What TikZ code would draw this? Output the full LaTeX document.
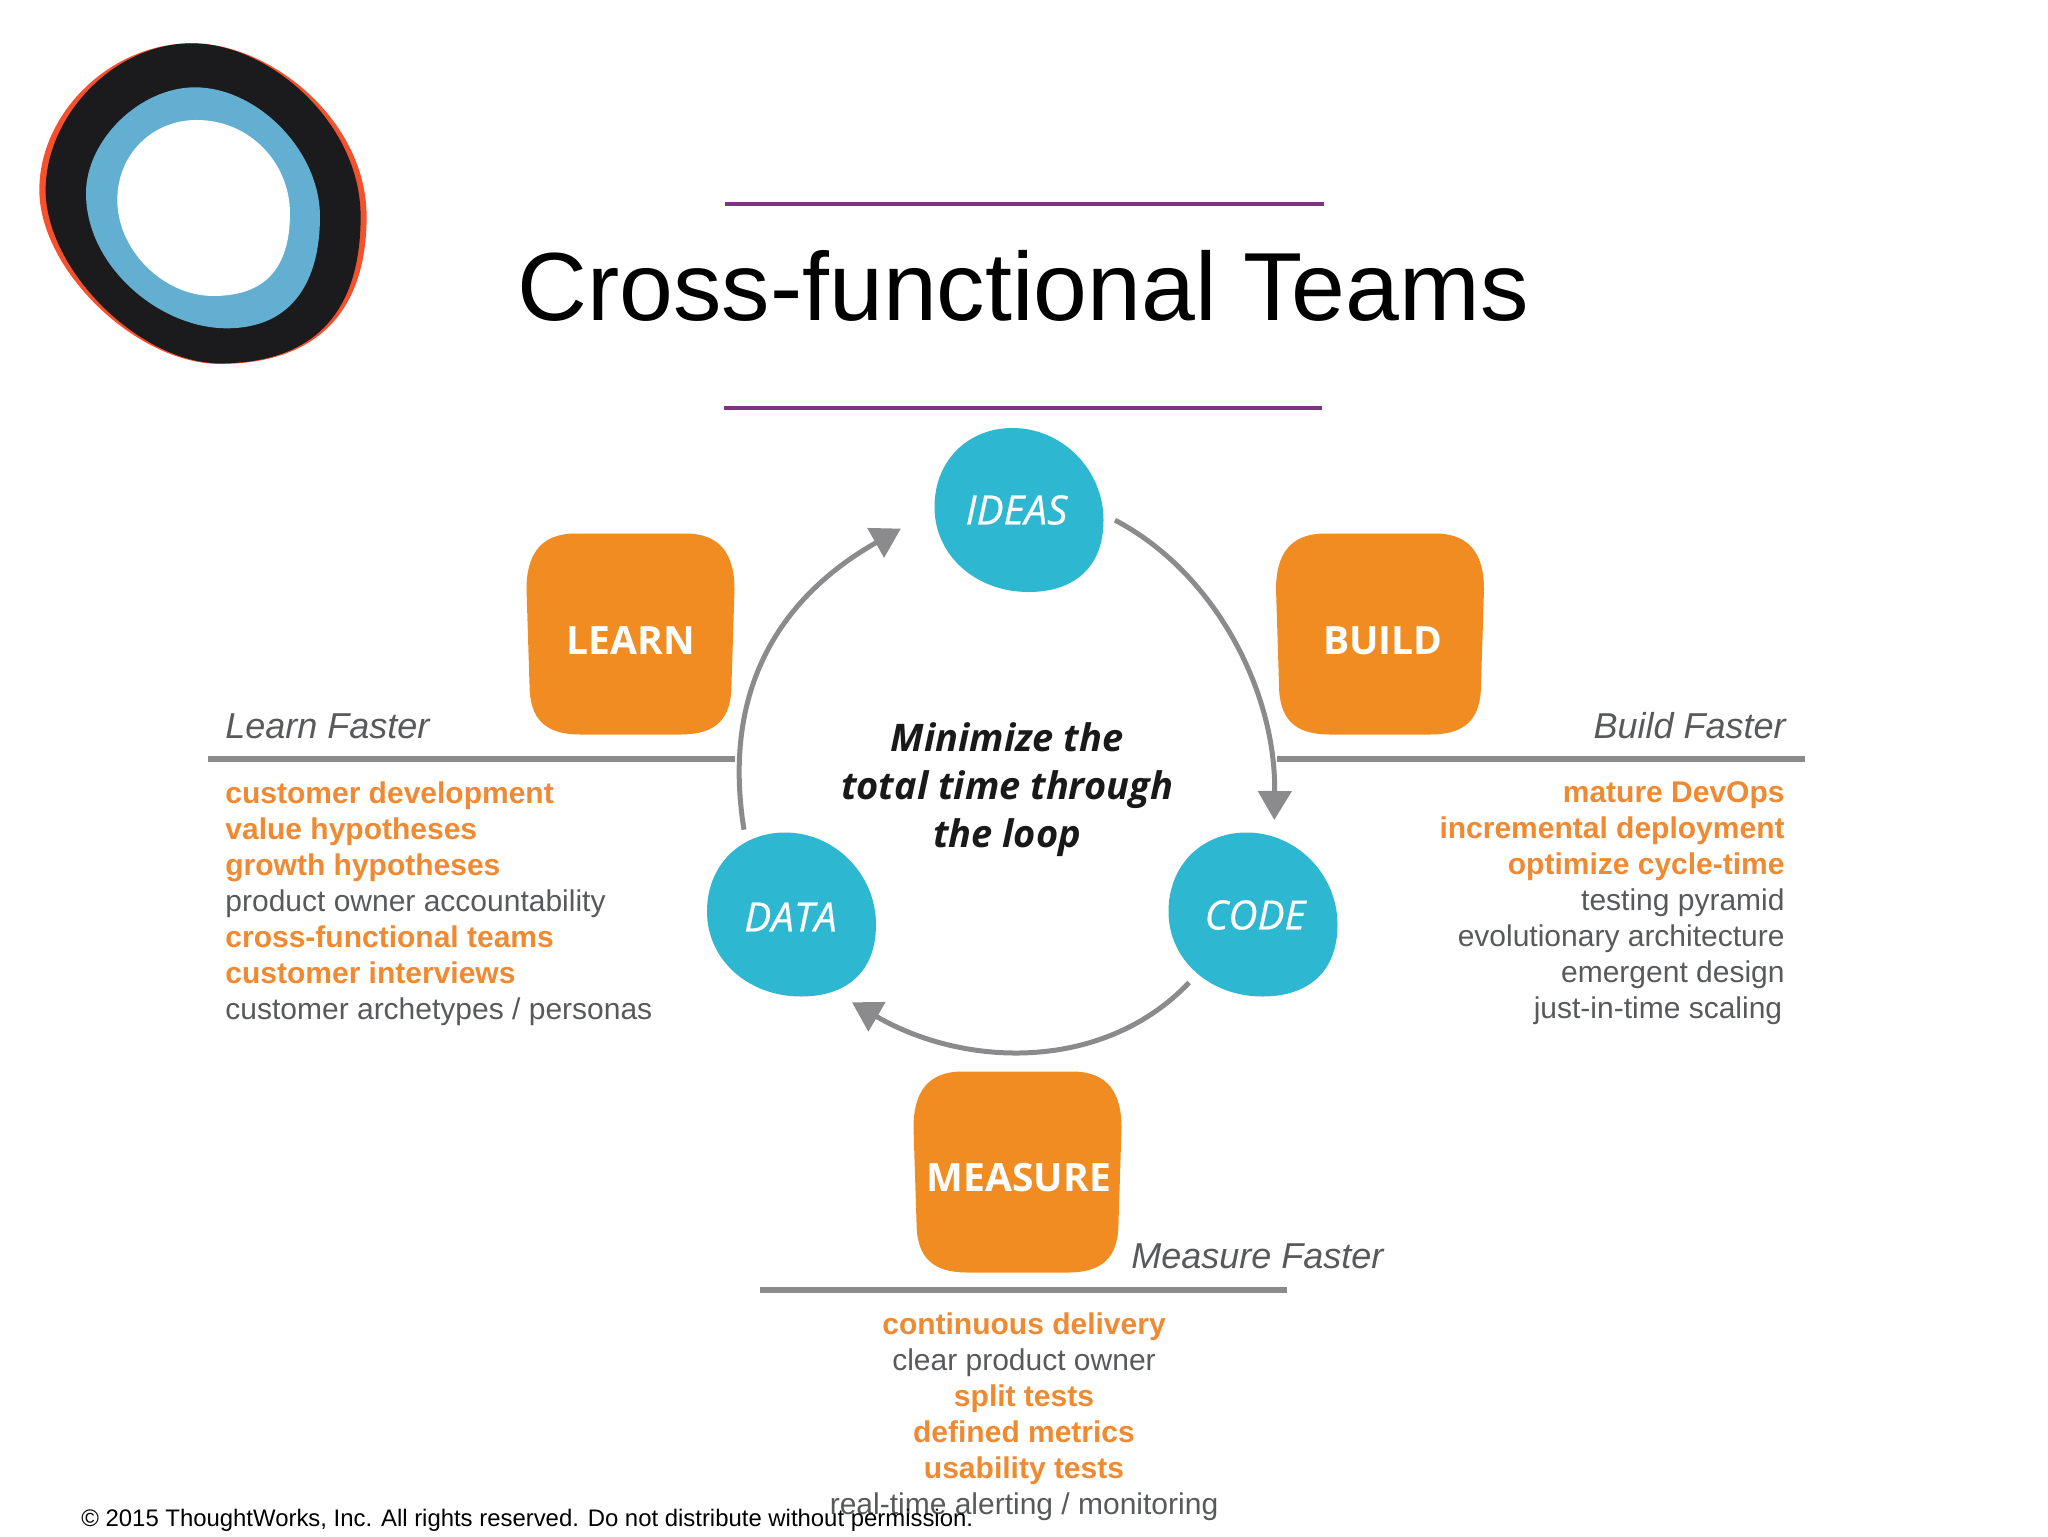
\documentclass[tikz,border=0pt]{standalone}
\usepackage{fontspec}
\setmainfont{Liberation Sans}
\newfontfamily\opensans{Open Sans}
\newfontfamily\opensansheavy[FakeBold=0.5]{Open Sans}
\usetikzlibrary{arrows.meta}
\definecolor{logored}{HTML}{F4512C}
\definecolor{logoblack}{HTML}{1B1A1C}
\definecolor{logoblue}{HTML}{62AFD2}
\definecolor{rulepurple}{HTML}{7E3380}
\definecolor{blockorange}{HTML}{F08C22}
\definecolor{blobteal}{HTML}{2DB7D0}
\definecolor{loopgray}{HTML}{8B8B8E}
\definecolor{textgray}{HTML}{58595B}
\definecolor{listorange}{HTML}{F08A32}
\newcommand{\hot}[1]{{\color{listorange}\bfseries #1}}
\tikzset{
  x=0.5pt, y=-0.5pt,
  blockpic/.pic={
    \fill[blockorange] (-55,-101) -- (55,-101) .. controls (90,-101) and (104,-80) .. (104,-45)
      -- (101,50) .. controls (101,85) and (85,100) .. (50,100) -- (-50,100)
      .. controls (-85,100) and (-101,85) .. (-101,50) -- (-104,-45)
      .. controls (-104,-80) and (-90,-101) .. (-55,-101) -- cycle;
  },
  blobpic/.pic={
    \fill[blobteal] (-6,-82) .. controls (44,-82) and (85,-40) .. (85,10)
      .. controls (85,58) and (55,82) .. (10,82)
      .. controls (-42,82) and (-84,46) .. (-84,-3)
      .. controls (-84,-50) and (-50,-82) .. (-6,-82) -- cycle;
  },
  blocklabel/.style={text=white, font=\opensans\bfseries\fontsize{19.5pt}{24pt}\selectfont},
  bloblabel/.style={circle, minimum size=85pt, inner sep=0pt, outer sep=6pt, text=white},
  blobtext/.style={text=white, inner sep=0pt, font=\opensansheavy\itshape\fontsize{20.2pt}{24pt}\selectfont},
  toprule/.style={draw=rulepurple, line width=2pt},
  siderule/.style={draw=loopgray, line width=2.6pt},
  looparrow/.style={draw=loopgray, line width=2.5pt, -{Triangle[length=14.5pt,width=16.5pt]}},
  fasterlabel/.style={text=textgray, inner sep=0pt, font=\itshape\fontsize{18pt}{22pt}\selectfont},
  listtext/.style={text=textgray, inner sep=0pt, font=\fontsize{15pt}{18pt}\selectfont},
}
\begin{document}
\begin{tikzpicture}
\useasboundingbox (0,0) rectangle (2048,1536);
% logo
\begin{scope}[scale=0.3333]
\fill[logored] (575,130) .. controls (810,128) and (1100,360) .. (1100,650)
  .. controls (1100,950) and (935,1092) .. (660,1092)
  .. controls (410,1092) and (118,810) .. (118,570)
  .. controls (118,340) and (330,130) .. (575,130) -- cycle;
\fill[logoblack] (575,130) .. controls (810,130) and (1082,370) .. (1082,650)
  .. controls (1082,950) and (930,1090) .. (660,1090)
  .. controls (420,1090) and (137,810) .. (137,570)
  .. controls (137,350) and (340,130) .. (575,130) -- cycle;
\fill[logoblue] (585,262) .. controls (770,262) and (960,450) .. (960,650)
  .. controls (960,840) and (880,985) .. (680,985)
  .. controls (480,985) and (258,800) .. (258,580)
  .. controls (258,420) and (420,262) .. (585,262) -- cycle;
\fill[white] (590,360) .. controls (750,360) and (870,490) .. (870,640)
  .. controls (870,810) and (790,888) .. (640,888)
  .. controls (490,888) and (352,750) .. (352,600)
  .. controls (352,460) and (460,360) .. (590,360) -- cycle;
\end{scope}
% title
\path[toprule] (725,204) -- (1324,204);
\path[toprule] (724,408) -- (1322,408);
\node[anchor=base, inner sep=0pt, font=\fontsize{48.4pt}{56pt}\selectfont] (title) at (1023,320) {Cross-functional Teams};
% rules
\path[siderule] (208,759) -- (735,759);
\path[siderule] (1277,759) -- (1805,759);
\path[siderule] (760,1290) -- (1287,1290);
% blocks
\pic at (630.5,634.5) {blockpic};
\pic at (1380,634.5) {blockpic};
\pic at (1017.5,1172.5) {blockpic};
\node[blocklabel] (learn) at (631,641) {LEARN};
\node[blocklabel] (build) at (1383,641) {BUILD};
\node[blocklabel] (measure) at (1019,1178) {MEASURE};
% blobs
\pic at (1018.5,510) {blobpic};
\pic at (1252.5,914.5) {blobpic};
\pic at (791,914.5) {blobpic};
\node[bloblabel] (ideas) at (1018.5,510) {};
\node[bloblabel] (code) at (1252.5,914.5) {};
\node[bloblabel] (data) at (791,914.5) {};
\node[blobtext] (ideastext) at (1016.5,510) {IDEAS};
\node[blobtext] (codetext) at (1255,915) {CODE};
\node[blobtext] (datatext) at (790.5,917) {DATA};
% loop
\draw[looparrow] (ideas.-6) .. controls (1214,572) and (1276,690) .. (code.77);
\draw[looparrow, shorten <=-2pt, shorten >=5.5pt] (code.-133) .. controls (1105,1071) and (967,1069) .. (data.-58);
\draw[looparrow, shorten >=12pt] (data.119) .. controls (720,680) and (789,592) .. (ideas.184);
% centre text
\node[align=center, inner sep=0pt, text=black!90, font=\opensans\bfseries\itshape\fontsize{19pt}{24pt}\selectfont] (centre) at (1007,790) {Minimize the\\total time through\\the loop};
% faster labels
\node[fasterlabel, anchor=base west] (learnfaster) at (225,738) {Learn Faster};
\node[fasterlabel, anchor=base east] (buildfaster) at (1786,738) {Build Faster};
\node[fasterlabel, anchor=base west] (measurefaster) at (1131,1268) {Measure Faster};
% lists
\node[listtext, anchor=north west, align=left] (learnlist) at (225,781) {\hot{customer development}\\\hot{value hypotheses}\\\hot{growth hypotheses}\\product owner accountability\\\hot{cross-functional teams}\\\hot{customer interviews}\\customer archetypes / personas};
\node[listtext, anchor=north east, align=right] (buildlist) at (1785,781) {\hot{mature DevOps}\\\hot{incremental deployment}\\\hot{optimize cycle-time}\\testing pyramid\\evolutionary architecture\\emergent design\\just-in-time scaling\hspace*{1.2pt}};
\node[listtext, anchor=north, align=center] (measurelist) at (1024,1312) {\hot{continuous delivery}\\clear product owner\\\hot{split tests}\\\hot{defined metrics}\\\hot{usability tests}\\real-time alerting / monitoring};
% footer
\node[anchor=base west, inner sep=0pt, font=\fontsize{11.95pt}{14pt}\selectfont] (footer) at (81,1526) {© 2015 ThoughtWorks, Inc. All rights reserved. Do not distribute without permission.};
\end{tikzpicture}
\end{document}
